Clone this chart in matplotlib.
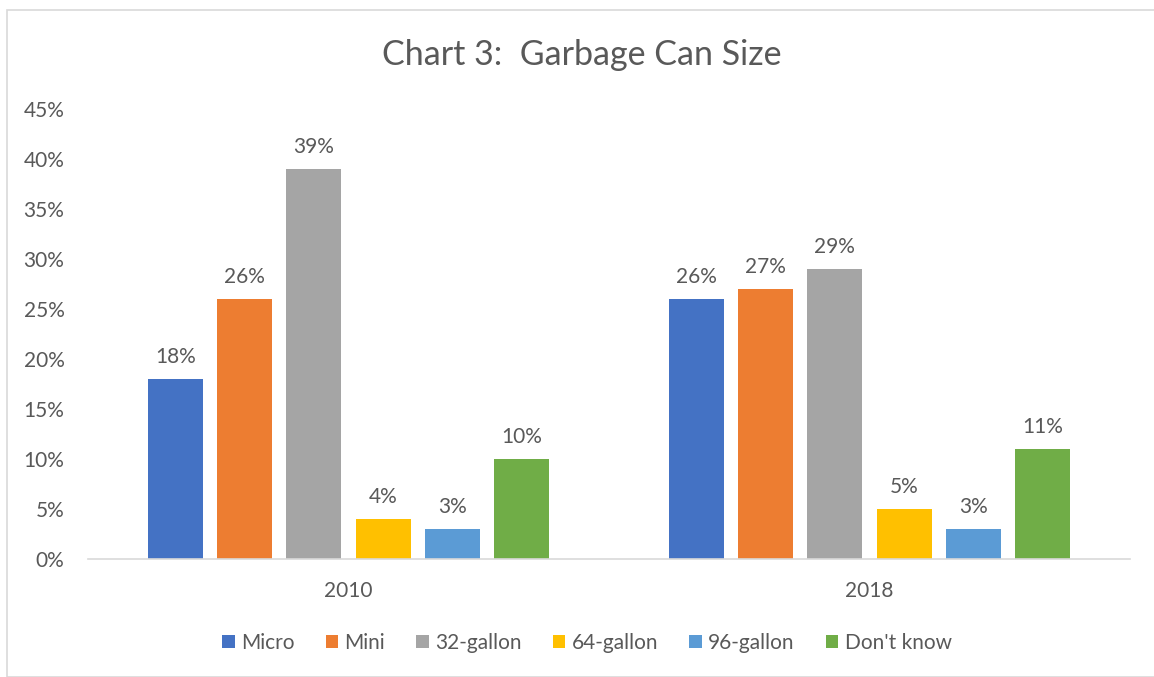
import matplotlib
matplotlib.use("Agg")
import matplotlib.pyplot as plt
from matplotlib.patches import Rectangle
import numpy as np

years = ["2010", "2018"]
sizes = ["Micro", "Mini", "32-gallon", "64-gallon", "96-gallon", "Don't know"]
micro = [18, 26]
mini = [26, 27]
gallon32 = [39, 29]
gallon64 = [4, 5]
gallon96 = [3, 3]
dont_know = [10, 11]
colors = ["#4472C4", "#ED7D31", "#A5A5A5", "#FFC000", "#5B9BD5", "#70AD47"]
y_ticks = [0, 5, 10, 15, 20, 25, 30, 35, 40, 45]

series = [micro, mini, gallon32, gallon64, gallon96, dont_know]
text_color = "#595959"
plt.rcParams["font.family"] = ["Lato", "DejaVu Sans"]

W, H = 1154, 677
fig = plt.figure(figsize=(W / 100, H / 100), dpi=100)
fig.patch.set_facecolor("white")

# chart frame
fig.add_artist(Rectangle((7 / W, 0), (W + 10) / W, (H - 10) / H,
                         transform=fig.transFigure, fill=False,
                         edgecolor="#D9D9D9", linewidth=1.2))

ax = fig.add_axes([88 / W, (H - 559) / H, (1130 - 88) / W, 450 / H])
x = np.arange(len(years))
step = 0.133
width = 0.106
for i, (vals, c) in enumerate(zip(series, colors)):
    pos = x + (i - 2.5) * step
    bars = ax.bar(pos, vals, width=width, color=c, label=sizes[i])
    for p, v in zip(pos, vals):
        ax.text(p, v + 1.2, f"{v}%", ha="center", va="bottom",
                fontsize=15, color=text_color)

ax.set_xlim(-0.5, 1.5)
ax.set_ylim(0, 45)
ax.set_yticks(y_ticks)
ax.set_yticklabels([f"{t}%" for t in y_ticks])
ax.set_xticks(x)
ax.set_xticklabels(years)
ax.tick_params(axis="both", length=0, labelsize=15, labelcolor=text_color)
ax.tick_params(axis="y", pad=17)
ax.tick_params(axis="x", pad=16)
for s in ["top", "right", "left"]:
    ax.spines[s].set_visible(False)
ax.spines["bottom"].set_color("#D9D9D9")
ax.spines["bottom"].set_linewidth(1.2)

fig.text(582 / W, 1 - 55 / H, "Chart 3:  Garbage Can Size", ha="center",
         va="center", fontsize=24.5, color=text_color)

handles, labels = ax.get_legend_handles_labels()
fig.legend(handles, labels, loc="center", bbox_to_anchor=(587 / W, 1 - 643 / H),
           ncol=6, frameon=False, fontsize=15, labelcolor=text_color,
           handlelength=0.6, handleheight=0.6, handletextpad=0.3,
           columnspacing=1.5)

fig.savefig("out.png", dpi=100)
